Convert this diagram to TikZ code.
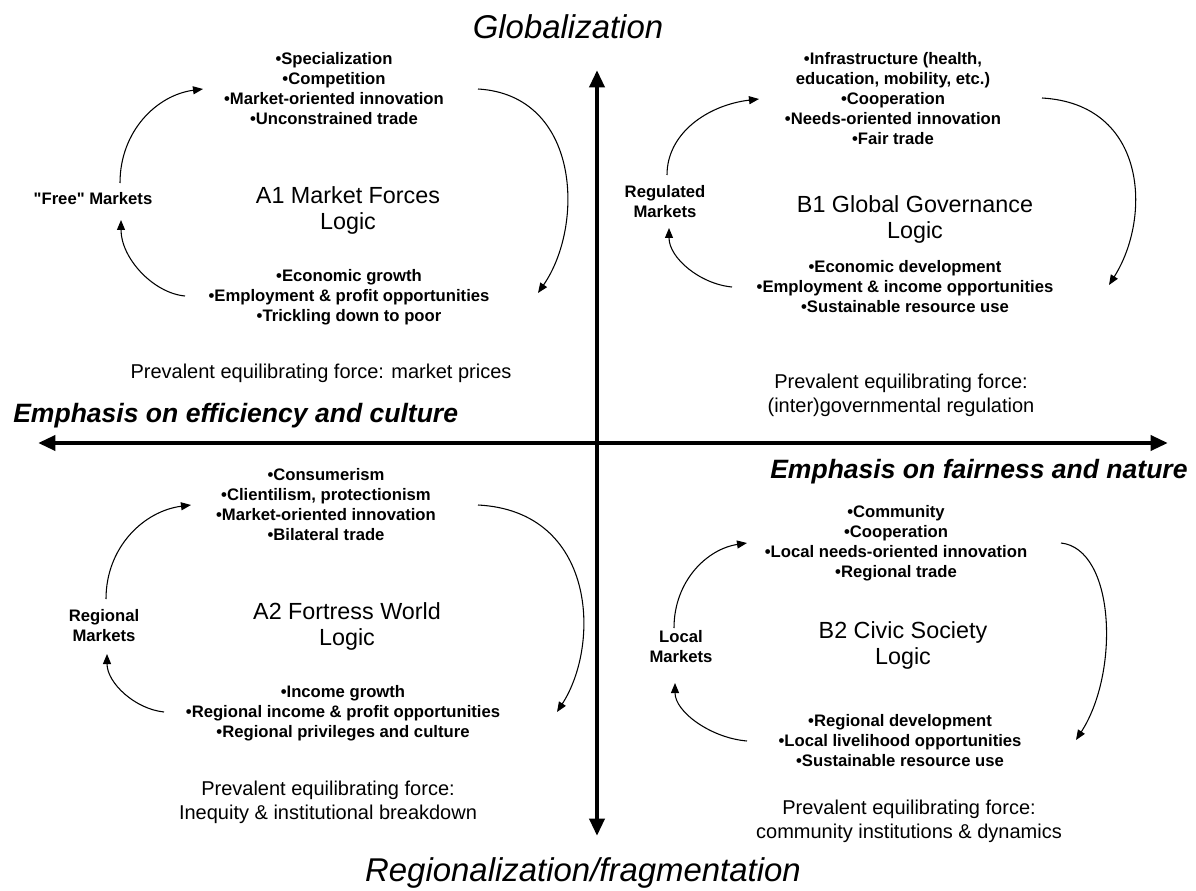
\documentclass[tikz,border=0pt]{standalone}
\usepackage{fontspec}
\setmainfont{Liberation Sans}[Ligatures=TeXOff]
\usetikzlibrary{arrows.meta}
\begin{document}
\begin{tikzpicture}[x=0.75pt,y=-0.75pt,
  lst/.style={align=center,inner sep=0pt,font=\fontsize{12.5}{15}\selectfont\bfseries},
  ttl/.style={align=center,inner sep=0pt,font=\fontsize{17.5}{19.5}\selectfont},
  prv/.style={align=center,inner sep=0pt,font=\fontsize{15}{18}\selectfont},
  axlbl/.style={inner sep=0pt,font=\fontsize{24.7}{28}\selectfont\itshape},
  emphlbl/.style={inner sep=0pt,anchor=west,font=\fontsize{19.9}{24}\selectfont\bfseries\itshape},
  flow/.style={line width=0.8pt,-{Triangle[length=7.5pt,width=6pt]}},
  axisline/.style={line width=3.5pt,{Triangle[length=13pt,width=11pt]}-{Triangle[length=13pt,width=11pt]}}]
\useasboundingbox (0,0) rectangle (1196,891);

% axes
\coordinate (vtop) at (597,70);
\coordinate (vbot) at (597,836);
\coordinate (hleft) at (38,443);
\coordinate (hright) at (1168,443);
\draw[axisline] (vbot) -- (vtop);
\draw[axisline] (hleft) -- (hright);

\node[axlbl] (glob) at (568,27) {Globalization};
\node[axlbl] (reg) at (583,873) {Regionalization/fragmentation};
\node[emphlbl] (eff) at (13,416) {Emphasis on efficiency and culture};
\node[emphlbl] (fair) at (770,472) {Emphasis on fairness and nature};

% ---------- A1 ----------
\node[lst] (a1top) at (334,89) {•Specialization\\•Competition\\•Market-oriented innovation\\•Unconstrained trade};
\node[lst] (a1side) at (93,199) {"Free" Markets};
\node[ttl] (a1ttl) at (348,210) {A1 Market Forces\\Logic};
\node[lst] (a1bot) at (349,297) {•Economic growth\\•Employment \& profit opportunities\\•Trickling down to poor};
\node[prv] (a1prv) at (321,373) {Prevalent equilibrating force: market prices};
\coordinate (a1ulS) at (120,183); \coordinate (a1ulE) at (203,89);
\coordinate (a1rS) at (478,89);  \coordinate (a1rE) at (538,293);
\coordinate (a1llS) at (185,296); \coordinate (a1llE) at (121,220);
\draw[flow] (a1ulS) .. controls (120,131) and (157,95) .. (a1ulE);
\draw[flow] (a1rS) .. controls (580,95) and (585,225) .. (a1rE);
\draw[flow] (a1llS) .. controls (153,293) and (121,258) .. (a1llE);

% ---------- B1 ----------
\node[lst] (b1top) at (893,99) {•Infrastructure (health,\\education, mobility, etc.)\\•Cooperation\\•Needs-oriented innovation\\•Fair trade};
\node[lst] (b1side) at (665,202) {Regulated\\Markets};
\node[ttl] (b1ttl) at (915,219) {B1 Global Governance\\Logic};
\node[lst] (b1bot) at (905,287) {•Economic development\\•Employment \& income opportunities\\•Sustainable resource use};
\node[prv] (b1prv) at (901,395) {Prevalent equilibrating force:\\(inter)governmental regulation};
\coordinate (b1ulS) at (667,175); \coordinate (b1ulE) at (759,99);
\coordinate (b1rS) at (1042,98);  \coordinate (b1rE) at (1109,285);
\coordinate (b1llS) at (732,287); \coordinate (b1llE) at (669,228);
\draw[flow] (b1ulS) .. controls (667,133) and (708,105) .. (b1ulE);
\draw[flow] (b1rS) .. controls (1147,104) and (1152,217) .. (b1rE);
\draw[flow] (b1llS) .. controls (700,284) and (669,258) .. (b1llE);

% ---------- A2 ----------
\node[lst] (a2top) at (326,505) {•Consumerism\\•Clientilism, protectionism\\•Market-oriented innovation\\•Bilateral trade};
\node[lst] (a2side) at (104,626) {Regional\\Markets};
\node[ttl] (a2ttl) at (347,626) {A2 Fortress World\\Logic};
\node[lst] (a2bot) at (343,713) {•Income growth\\•Regional income \& profit opportunities\\•Regional privileges and culture};
\node[prv] (a2prv) at (328,802) {Prevalent equilibrating force:\\Inequity \& institutional breakdown};
\coordinate (a2ulS) at (106,599); \coordinate (a2ulE) at (191,505);
\coordinate (a2rS) at (478,505);  \coordinate (a2rE) at (557,712);
\coordinate (a2llS) at (164,712); \coordinate (a2llE) at (107,654);
\draw[flow] (a2ulS) .. controls (106,547) and (144,511) .. (a2ulE);
\draw[flow] (a2rS) .. controls (596,511) and (601,644) .. (a2rE);
\draw[flow] (a2llS) .. controls (135,709) and (107,683) .. (a2llE);

% ---------- B2 ----------
\node[lst] (b2top) at (896,543) {•Community\\•Cooperation\\•Local needs-oriented innovation\\•Regional trade};
\node[lst] (b2side) at (681,647) {Local\\Markets};
\node[ttl] (b2ttl) at (903,645) {B2 Civic Society\\Logic};
\node[lst] (b2bot) at (900,741) {•Regional development\\•Local livelihood opportunities\\•Sustainable resource use};
\node[prv] (b2prv) at (909,821) {Prevalent equilibrating force:\\community institutions \& dynamics};
\coordinate (b2ulS) at (674,628); \coordinate (b2ulE) at (747,543);
\coordinate (b2rS) at (1061,543);  \coordinate (b2rE) at (1076,740);
\coordinate (b2llS) at (747,741); \coordinate (b2llE) at (675,683);
\draw[flow] (b2ulS) .. controls (674,581) and (707,549) .. (b2ulE);
\draw[flow] (b2rS) .. controls (1115,549) and (1120,672) .. (b2rE);
\draw[flow] (b2llS) .. controls (711,738) and (675,712) .. (b2llE);
\end{tikzpicture}
\end{document}
